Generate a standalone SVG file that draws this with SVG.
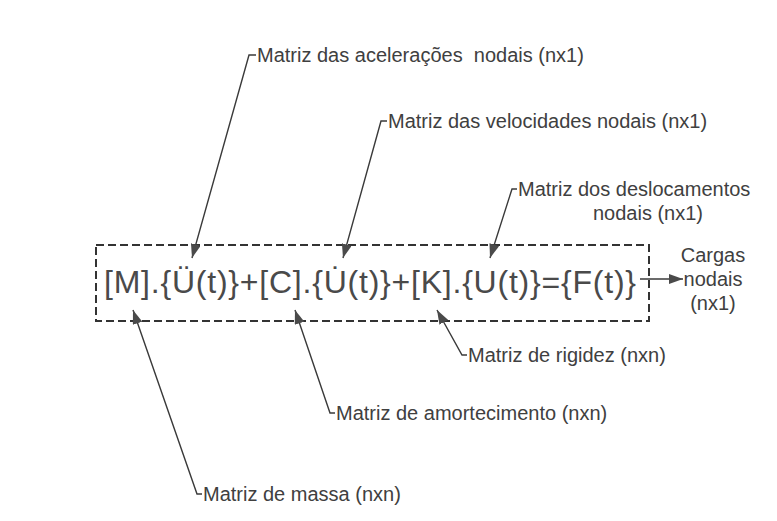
<svg xmlns="http://www.w3.org/2000/svg" width="777" height="521" viewBox="0 0 777 521">
  <style>
    .lbl { font-family: "Liberation Sans", Arial, sans-serif; font-size: 20px; fill: #404040; white-space: pre; }
    .eq { font-family: "Liberation Sans", Arial, sans-serif; font-size: 32px; fill: #4a4a4a; }
    .ld { fill: none; stroke: #3a3a3a; stroke-width: 1.4; }
    .box { fill: none; stroke: #333; stroke-width: 2; stroke-dasharray: 8 4; }
  </style>
  <defs>
    <marker id="ah" viewBox="0 0 14 10" refX="14" refY="5" markerWidth="14" markerHeight="10" orient="auto-start-reverse" markerUnits="userSpaceOnUse">
      <path d="M0,0 L14,5 L0,10 z" fill="#4a4a4a"/>
    </marker>
  </defs>
  <rect width="777" height="521" fill="#ffffff"/>

  <g id="equation">
    <rect class="box" x="96" y="245" width="553" height="76"/>
    <text class="eq" x="104" y="293" textLength="532" lengthAdjust="spacing">[M].{Ü(t)}+[C].{U&#x307;(t)}+[K].{U(t)}={F(t)}</text>
  </g>

  <g id="label-aceleracoes">
    <text class="lbl" x="257" y="62" xml:space="preserve">Matriz das acelerações  nodais (nx1)</text>
  </g>
  <g id="label-velocidades">
    <text class="lbl" x="388" y="128">Matriz das velocidades nodais (nx1)</text>
  </g>
  <g id="label-deslocamentos">
    <text class="lbl" x="518" y="196">Matriz dos deslocamentos</text>
    <text class="lbl" x="648" y="220" text-anchor="middle">nodais (nx1)</text>
  </g>
  <g id="label-cargas">
    <text class="lbl" x="713" y="262" text-anchor="middle">Cargas</text>
    <text class="lbl" x="713" y="286" text-anchor="middle">nodais</text>
    <text class="lbl" x="713" y="310" text-anchor="middle">(nx1)</text>
  </g>
  <g id="label-rigidez">
    <text class="lbl" x="468" y="362">Matriz de rigidez (nxn)</text>
  </g>
  <g id="label-amortecimento">
    <text class="lbl" x="336" y="420">Matriz de amortecimento (nxn)</text>
  </g>
  <g id="label-massa">
    <text class="lbl" x="203" y="501">Matriz de massa (nxn)</text>
  </g>

  <g id="connectors">
    <path class="ld" d="M256,55 H249 L192,258" marker-end="url(#ah)"/>
    <path class="ld" d="M387,121 H381 L343,258" marker-end="url(#ah)"/>
    <path class="ld" d="M517,189 H512 L490,258" marker-end="url(#ah)"/>
    <path class="ld" d="M640,279 H683" marker-end="url(#ah)"/>
    <path class="ld" d="M437,310 L462,355 H467" marker-start="url(#ah)"/>
    <path class="ld" d="M295,310 L330,413 H335" marker-start="url(#ah)"/>
    <path class="ld" d="M133,310 L197,494 H202" marker-start="url(#ah)"/>
  </g>
</svg>
